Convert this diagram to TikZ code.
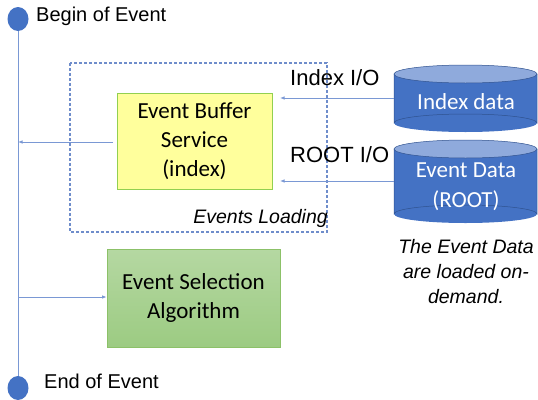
\documentclass[tikz,border=0pt]{standalone}
\usepackage{fontspec}
\setmainfont{Liberation Sans}
\newfontfamily\calibrifont{Carlito}
\usetikzlibrary{arrows.meta,shapes.geometric}
\definecolor{lineblue}{HTML}{4472C4}
\definecolor{connblue}{HTML}{7A98D4}
\definecolor{dashblue}{HTML}{6F8DCB}
\definecolor{cylblue}{HTML}{4472C4}
\definecolor{cyltop}{HTML}{8FAADC}
\definecolor{cylborder}{HTML}{2F528F}
\definecolor{ebfill}{HTML}{FFFF9C}
\definecolor{ebborder}{HTML}{92D050}
\definecolor{gtop}{HTML}{B5D8A2}
\definecolor{gbot}{HTML}{9CCB82}
\definecolor{gborder}{HTML}{8CC168}
\tikzset{
  conn/.style={draw=connblue, line width=0.8pt},
  arr/.style={conn, -{Latex[length=4.5pt,width=3.5pt]}},
  calbox/.style={font=\calibrifont\fontsize{23}{29}\selectfont, align=center, inner sep=0pt},
  armtext/.style={font=\fontsize{20}{24}\selectfont, inner sep=0pt},
  cyltext/.style={font=\calibrifont\fontsize{23}{30}\selectfont, text=white, align=center, inner sep=0pt},
}
\begin{document}
\begin{tikzpicture}[x=1pt,y=-1pt]
\useasboundingbox (0,0) rectangle (538,399);
% timeline
\coordinate (ltop) at (18,30);
\coordinate (lbot) at (18,377);
\draw[conn] (ltop) -- (lbot);
\node[draw=none, fill=lineblue, ellipse, minimum width=21pt, minimum height=24pt, inner sep=0pt] (begin) at (18,19) {};
\fill[lineblue] (18,388) ellipse (10.5 and 12);
\coordinate (endc) at (18,388);
\node[armtext, anchor=west] (begint) at (36,16) {Begin of Event};
\node[armtext, anchor=west] (endt) at (44,381) {End of Event};
% dashed box
\draw[dashblue, line width=1.1pt, dash pattern=on 3pt off 2pt] (70,63) rectangle (327,232);
\node[font=\itshape\fontsize{19.5}{24}\selectfont, anchor=east, inner sep=0pt] (evload) at (328,218) {Events Loading};
% event buffer
\node[draw=ebborder, fill=ebfill, line width=0.8pt, minimum width=155pt, minimum height=96pt, inner sep=0pt] (ebs) at (194.5,141) {};
\node[calbox] at (ebs.center) {Event Buffer\\Service\\(index)};
% selection
\node[draw=gborder, top color=gtop, bottom color=gbot, line width=0.8pt, minimum width=173pt, minimum height=98pt, inner sep=0pt] (esa) at (193.5,298) {};
\node[calbox] at (esa.center) {Event Selection\\Algorithm};
% cylinders
\fill[cylblue] (394,74) rectangle (537,123);
\fill[cylblue] (465.5,123) ellipse (71.5 and 9);
\draw[cylborder, line width=0.5pt] (394,74) -- (394,123) arc[start angle=180,end angle=360,x radius=71.5,y radius=9] -- (537,74);
\filldraw[fill=cyltop, draw=cylborder, line width=0.5pt] (465.5,74) ellipse (71.5 and 9);
\node[draw=none, minimum width=143pt, minimum height=67pt, inner sep=0pt] (cyl1) at (465.5,98.5) {};
\node[cyltext] at (466,102) {Index data};
\fill[cylblue] (394,149) rectangle (537,214);
\fill[cylblue] (465.5,214) ellipse (71.5 and 9);
\draw[cylborder, line width=0.5pt] (394,149) -- (394,214) arc[start angle=180,end angle=360,x radius=71.5,y radius=9] -- (537,149);
\filldraw[fill=cyltop, draw=cylborder, line width=0.5pt] (465.5,149) ellipse (71.5 and 9);
\node[draw=none, minimum width=143pt, minimum height=83pt, inner sep=0pt] (cyl2) at (465.5,181.5) {};
\node[cyltext] at (466,187) {Event Data\\(ROOT)};
% labels
\node[font=\fontsize{22}{26}\selectfont, anchor=west, inner sep=0pt] (iio) at (290,78) {Index I/O};
\node[font=\fontsize{22}{26}\selectfont, anchor=west, inner sep=0pt] (rio) at (290,155) {ROOT I/O};
\node[font=\itshape\fontsize{19.5}{25}\selectfont, align=center, inner sep=0pt] (note) at (466,272) {The Event Data\\are loaded on-\\demand.};
% connectors
\coordinate (a1s) at (cyl1.west |- 0,98);
\coordinate (a1e) at (280,98);
\draw[arr] (a1s) -- (a1e);
\coordinate (a2s) at (cyl2.west |- 0,181);
\coordinate (a2e) at (280,181);
\draw[arr] (a2s) -- (a2e);
\coordinate (a3s) at (113,142);
\coordinate (a3e) at (18,142);
\draw[arr] (a3s) -- (a3e);
\coordinate (a4s) at (18,297);
\draw[arr] (a4s) -- (esa.west |- a4s);
\end{tikzpicture}
\end{document}
